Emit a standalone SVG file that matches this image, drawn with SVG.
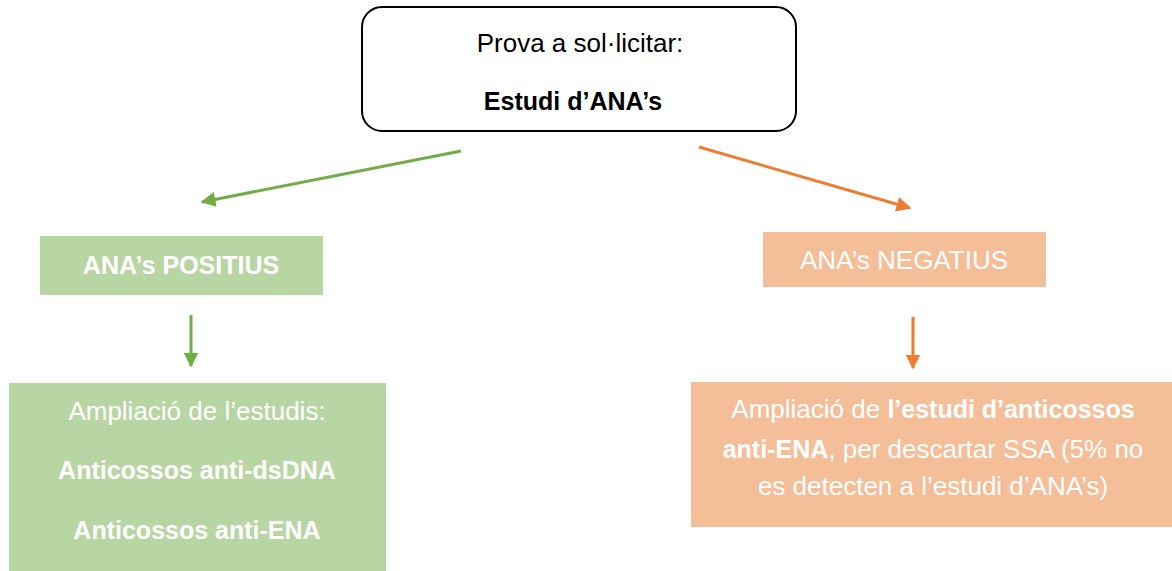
<svg xmlns="http://www.w3.org/2000/svg" width="1172" height="571" viewBox="0 0 1172 571">
<defs>
<style>
text{font-family:"Liberation Sans","Open Sans",sans-serif;font-size:26px;text-anchor:middle}
.b{font-weight:bold;font-size:25px}
.w{fill:#ffffff}
.k{fill:#000000}
.gbox{fill:#B8D6A4}
.obox{fill:#F4BE98}
.garr{stroke:#70AD47;stroke-width:3;fill:none}
.oarr{stroke:#ED7D31;stroke-width:3;fill:none}
</style>
<marker id="mg" viewBox="0 0 10 10" refX="9" refY="5" markerWidth="5" markerHeight="5" markerUnits="strokeWidth" orient="auto">
<path d="M0,0 L10,5 L0,10 Z" fill="#70AD47"/>
</marker>
<marker id="mo" viewBox="0 0 10 10" refX="9" refY="5" markerWidth="5" markerHeight="5" markerUnits="strokeWidth" orient="auto">
<path d="M0,0 L10,5 L0,10 Z" fill="#ED7D31"/>
</marker>
</defs>
<rect width="1172" height="571" fill="#ffffff"/>
<g id="connectors">
<line class="garr" x1="461" y1="151" x2="202" y2="202" marker-end="url(#mg)"/>
<line class="oarr" x1="699" y1="147" x2="910" y2="208" marker-end="url(#mo)"/>
<line class="garr" x1="191" y1="315" x2="191" y2="366" marker-end="url(#mg)"/>
<line class="oarr" x1="913" y1="317" x2="913" y2="368" marker-end="url(#mo)"/>
</g>
<g id="top">
<rect x="362" y="7" width="434" height="124" rx="20" ry="20" fill="#ffffff" stroke="#000000" stroke-width="2"/>
<text class="k" x="580" y="52">Prova a sol·licitar:</text>
<text class="k b" x="573" y="110">Estudi d’ANA’s</text>
</g>
<g id="positius">
<rect class="gbox" x="40" y="236" width="283" height="59"/>
<text class="w b" x="181" y="274">ANA’s POSITIUS</text>
</g>
<g id="negatius">
<rect class="obox" x="763" y="232" width="283" height="55"/>
<text class="w" x="904" y="269">ANA’s NEGATIUS</text>
</g>
<g id="positius-detail">
<rect class="gbox" x="9" y="383" width="377" height="188"/>
<text class="w" x="197" y="420">Ampliació de l’estudis:</text>
<text class="w b" x="197" y="479">Anticossos anti-dsDNA</text>
<text class="w b" x="197" y="539">Anticossos anti-ENA</text>
</g>
<g id="negatius-detail">
<rect class="obox" x="691" y="382" width="481" height="145"/>
<text class="w" x="933" y="418">Ampliació de <tspan class="b">l’estudi d’anticossos</tspan></text>
<text class="w" x="933" y="458"><tspan class="b">anti-ENA</tspan>, per descartar SSA (5% no</text>
<text class="w" x="933" y="495">es detecten a l’estudi d’ANA’s)</text>
</g>
</svg>
